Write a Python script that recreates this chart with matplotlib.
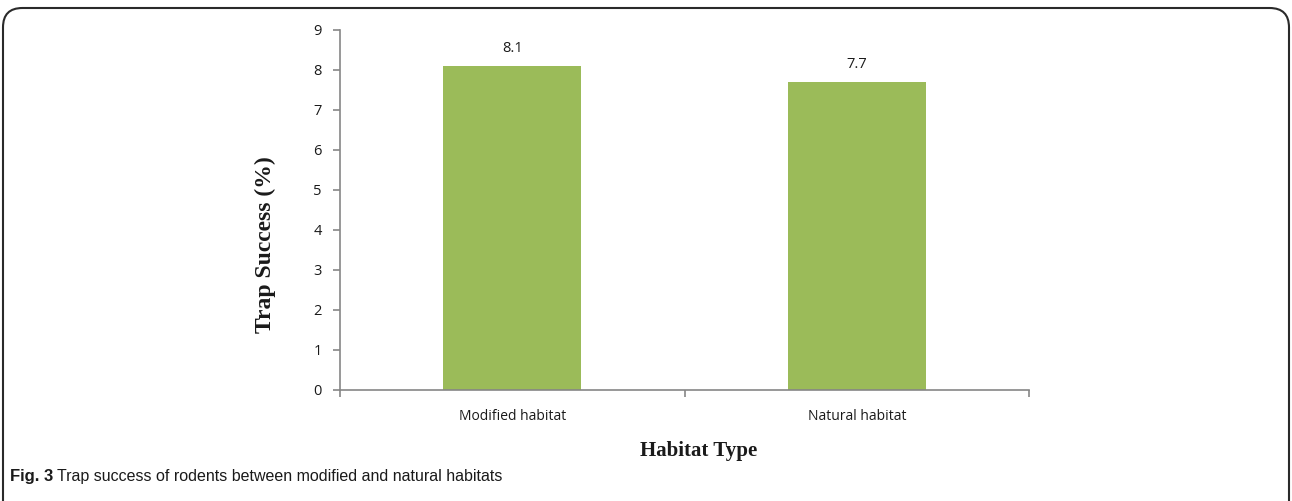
#!/usr/bin/env python3
"""Trap success bar chart by habitat type."""
import matplotlib.pyplot as plt
from matplotlib.patches import FancyBboxPatch

OUTPUT_FILE = 'out.png'

# Data
habitats = ['Modified habitat', 'Natural habitat']
trap_success = [8.1, 7.7]
y_ticks = list(range(0, 10))

# Colours
COLOR_BAR = '#9BBB59'
COLOR_AXIS = '#868686'
COLOR_TEXT = '#1a1a1a'

W, H = 1292, 501
fig = plt.figure(figsize=(W / 100, H / 100), dpi=100)
ax = fig.add_axes([0.2632, 0.2216, 0.5333, 0.7186])

x = list(range(len(habitats)))
bars = ax.bar(x, trap_success, width=0.4, color=COLOR_BAR, zorder=2)

# value labels above bars
for bar, val in zip(bars, trap_success):
    ax.annotate(f'{val:.1f}', (bar.get_x() + bar.get_width() / 2, val),
                xytext=(0, 7), textcoords='offset points',
                ha='center', va='bottom', fontsize=10.5,
                family='Open Sans', color=COLOR_TEXT)

ax.set_xlim(-0.5, len(habitats) - 0.5)
ax.set_ylim(0, 9)
ax.set_yticks(y_ticks)
ax.set_yticklabels([str(t) for t in y_ticks], family='Open Sans',
                   fontsize=10.5, color=COLOR_TEXT)
ax.set_xticks(x)
ax.set_xticklabels(habitats, family='Open Sans', fontsize=10, color=COLOR_TEXT)
ax.set_xticks([i - 0.5 for i in range(len(habitats) + 1)], minor=True)
ax.tick_params(axis='x', which='major', length=0, pad=14)
ax.tick_params(axis='x', which='minor', length=5, width=1.2, color=COLOR_AXIS)
ax.tick_params(axis='y', length=5, width=1.2, color=COLOR_AXIS, pad=8)

for side in ['top', 'right']:
    ax.spines[side].set_visible(False)
for side in ['left', 'bottom']:
    ax.spines[side].set_color(COLOR_AXIS)
    ax.spines[side].set_linewidth(1.2)

ax.set_ylabel('Trap Success (%)', family='Liberation Serif', fontweight='bold',
              fontsize=17, color=COLOR_TEXT)
ax.yaxis.set_label_coords(-0.093, 0.403)
ax.set_xlabel('Habitat Type', family='Liberation Serif', fontweight='bold',
              fontsize=15, color=COLOR_TEXT)
ax.xaxis.set_label_coords(0.521, -0.142)

# caption
cap_y = 1 - 476 / H
t1 = fig.text(10 / W, cap_y, 'Fig. 3', fontsize=12,
              fontweight='bold', family='Liberation Sans', va='center',
              ha='left', color=COLOR_TEXT)
fig.canvas.draw()
bb = t1.get_window_extent()
fig.text((bb.x1 + 4) / W, cap_y,
         'Trap success of rodents between modified and natural habitats',
         fontsize=11.5, family='Liberation Sans', va='center', ha='left',
         color=COLOR_TEXT)

# rounded frame around the figure
frame = FancyBboxPatch((3 / W, -0.1), 1 - 6 / W, 1.1 - 8 / H,
                       boxstyle='round,pad=0,rounding_size=0.015',
                       transform=fig.transFigure, fill=False,
                       edgecolor='#2a2a2a', linewidth=1.5,
                       mutation_aspect=W / H)
fig.patches.append(frame)

fig.savefig(OUTPUT_FILE, dpi=100, facecolor='white')
plt.close(fig)
